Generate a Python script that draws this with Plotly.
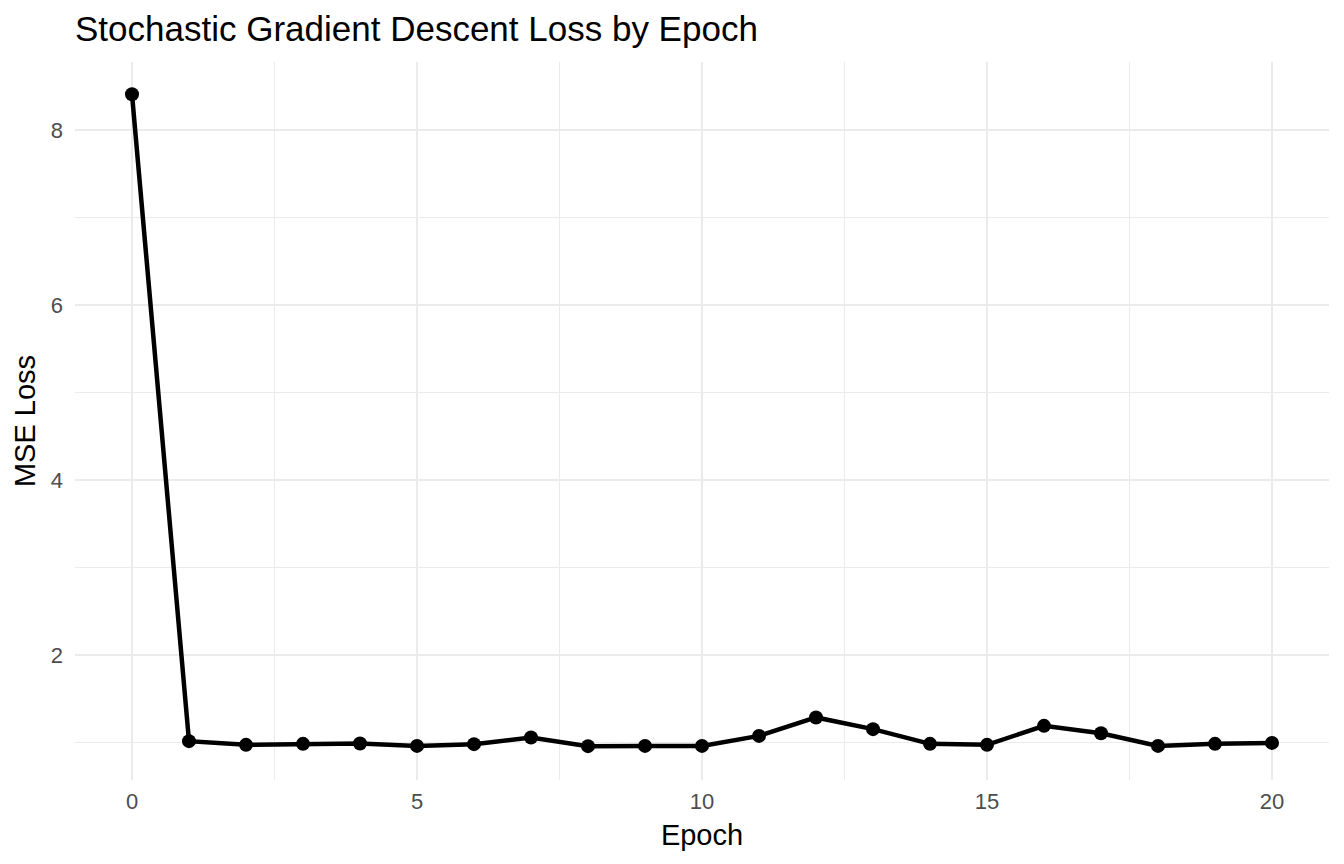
import plotly.graph_objects as go

epochs = list(range(0, 21))
loss = [8.408, 1.015, 0.973, 0.984, 0.989, 0.961, 0.981, 1.057, 0.958, 0.961,
        0.961, 1.075, 1.286, 1.152, 0.984, 0.973, 1.190, 1.106, 0.961, 0.984, 0.995]
x_ticks = [0, 5, 10, 15, 20]
y_ticks = [2, 4, 6, 8]

FONT = "Liberation Sans, Arial, Helvetica, sans-serif"
GRID = "#ebebeb"
W, H = 1336, 856

fig = go.Figure()
fig.add_trace(go.Scatter(
    x=epochs, y=loss, mode="lines+markers",
    line=dict(color="black", width=4.5),
    marker=dict(color="black", size=14),
    showlegend=False, hoverinfo="x+y",
))

fig.update_layout(
    width=W, height=H,
    margin=dict(l=67, r=15, t=54, b=84),
    paper_bgcolor="white", plot_bgcolor="white",
    font=dict(family=FONT, color="black"),
    title=dict(text="Stochastic Gradient Descent Loss by Epoch",
               font=dict(family=FONT, size=35, color="black"),
               x=67 / W, xanchor="left", xref="container",
               y=1 - 8 / H, yanchor="top", yref="container"),
    xaxis=dict(
        range=[-1, 21], tickvals=x_ticks, ticktext=[str(v) for v in x_ticks],
        showgrid=True, gridcolor=GRID, gridwidth=2.2,
        minor=dict(tickvals=[2.5, 7.5, 12.5, 17.5], showgrid=True, gridcolor=GRID, gridwidth=1.1),
        zeroline=False, showline=False, ticks="",
        tickfont=dict(family=FONT, size=22, color="#4d4d4d"),
        ticklabelstandoff=6,
        title=dict(text="Epoch", font=dict(family=FONT, size=29, color="black"), standoff=11),
    ),
    yaxis=dict(
        range=[0.571, 8.777], tickvals=y_ticks, ticktext=[str(v) for v in y_ticks],
        showgrid=True, gridcolor=GRID, gridwidth=2.2,
        minor=dict(tickvals=[1, 3, 5, 7], showgrid=True, gridcolor=GRID, gridwidth=1.1),
        zeroline=False, showline=False, ticks="",
        tickfont=dict(family=FONT, size=22, color="#4d4d4d"),
        ticklabelstandoff=11,
        title=dict(text="MSE Loss", font=dict(family=FONT, size=29, color="black"), standoff=6),
    ),
)

fig.write_html("out.html")
